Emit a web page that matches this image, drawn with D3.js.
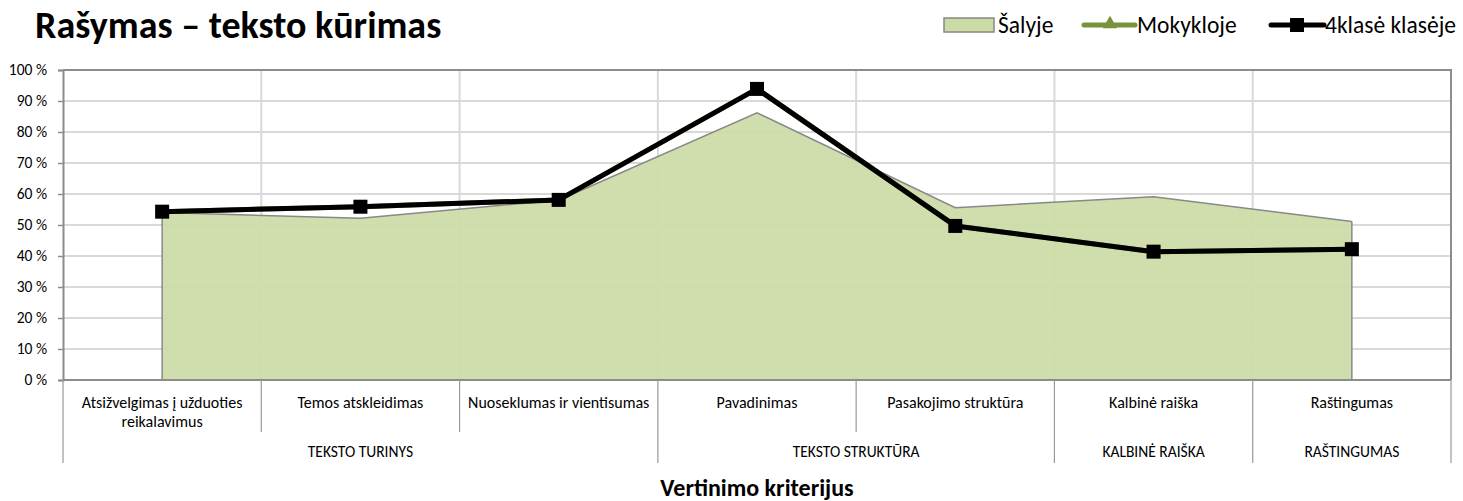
<!DOCTYPE html>
<html>
<head>
<meta charset="utf-8">
<script src="https://cdn.jsdelivr.net/npm/d3@7"></script>
<style>
  body { margin: 0; background: #fff; }
  text { font-family: Carlito, Calibri, Lato, "Open Sans", sans-serif; fill: #000; }
</style>
</head>
<body>
<div id="graph"></div>
<script>
// data
var criteria = [
  ["Atsižvelgimas į užduoties", "reikalavimus"],
  ["Temos atskleidimas"],
  ["Nuoseklumas ir vientisumas"],
  ["Pavadinimas"],
  ["Pasakojimo struktūra"],
  ["Kalbinė raiška"],
  ["Raštingumas"]
];
var groups = [
  { name: "TEKSTO TURINYS", from: 0, to: 2 },
  { name: "TEKSTO STRUKTŪRA", from: 3, to: 4 },
  { name: "KALBINĖ RAIŠKA", from: 5, to: 5 },
  { name: "RAŠTINGUMAS", from: 6, to: 6 }
];
var salyje = [54, 52.2, 58, 86.2, 55.6, 59.1, 51.1];
var mokykloje = [54.3, 55.9, 58.1, 93.9, 49.7, 41.4, 42.2];
var klaseje = [54.3, 55.9, 58.1, 93.9, 49.7, 41.4, 42.2];
var yTicks = [0, 10, 20, 30, 40, 50, 60, 70, 80, 90, 100];

var width = 1463, height = 501;
var margin = { top: 70, right: 12, bottom: 121, left: 63 };

var svg = d3.select("#graph").append("svg")
  .attr("width", width)
  .attr("height", height);

var x = d3.scaleBand()
  .domain(d3.range(criteria.length))
  .range([margin.left, width - margin.right])
  .padding(0);
var y = d3.scaleLinear().domain([0, 100]).range([height - margin.bottom, margin.top]);
var cx = function(i) { return x(i) + x.bandwidth() / 2; };

// gridlines
svg.append("g").selectAll("line")
  .data(yTicks.slice(1))
  .enter().append("line")
  .attr("x1", margin.left).attr("x2", width - margin.right)
  .attr("y1", function(d) { return y(d); }).attr("y2", function(d) { return y(d); })
  .attr("stroke", "#d9d9d9").attr("stroke-width", 2);

svg.append("g").selectAll("line")
  .data(d3.range(1, criteria.length))
  .enter().append("line")
  .attr("x1", function(i) { return x(i); }).attr("x2", function(i) { return x(i); })
  .attr("y1", y(0)).attr("y2", y(100))
  .attr("stroke", "#d9d9d9").attr("stroke-width", 2);

// country area
var area = d3.area()
  .x(function(d, i) { return cx(i); })
  .y0(y(0))
  .y1(function(d) { return y(d); });
svg.append("path")
  .datum(salyje)
  .attr("d", area)
  .attr("fill", "#cbdba6")
  .attr("fill-opacity", 0.93)
  .attr("stroke", "none");
svg.append("path")
  .datum(salyje)
  .attr("d", d3.line().x(function(d, i) { return cx(i); }).y(function(d) { return y(d); }))
  .attr("fill", "none")
  .attr("stroke", "#888")
  .attr("stroke-width", 1.5);
svg.append("line")
  .attr("x1", cx(0)).attr("x2", cx(0)).attr("y1", y(0)).attr("y2", y(salyje[0]))
  .attr("stroke", "#888").attr("stroke-width", 1.5);
svg.append("line")
  .attr("x1", cx(6)).attr("x2", cx(6)).attr("y1", y(0)).attr("y2", y(salyje[6]))
  .attr("stroke", "#888").attr("stroke-width", 1.5);

// plot border (top, right) and y axis
svg.append("path")
  .attr("d", "M" + margin.left + "," + y(100) + "H" + (width - margin.right) + "V" + y(0))
  .attr("fill", "none").attr("stroke", "#8c8c8c").attr("stroke-width", 2);

var yAxis = svg.append("g")
  .attr("transform", "translate(" + margin.left + ",0)")
  .call(d3.axisLeft(y).tickValues(yTicks).tickSize(5).tickPadding(11)
    .tickFormat(function(d) { return d + " %"; }));
yAxis.select(".domain").attr("stroke", "#8c8c8c").attr("stroke-width", 2);
yAxis.selectAll(".tick line").attr("stroke", "#8c8c8c").attr("stroke-width", 1.5);
yAxis.selectAll("text").style("font-size", "15.5px").attr("fill", "#000");

// x axis with two label rows
svg.append("line")
  .attr("x1", margin.left).attr("x2", width - margin.right)
  .attr("y1", y(0)).attr("y2", y(0))
  .attr("stroke", "#8c8c8c").attr("stroke-width", 2);

var groupEdges = [0];
groups.forEach(function(g) { groupEdges.push(g.to + 1); });
d3.range(criteria.length + 1).forEach(function(i) {
  var isGroup = groupEdges.indexOf(i) >= 0;
  var xx = i < criteria.length ? x(i) : x(criteria.length - 1) + x.bandwidth();
  svg.append("line")
    .attr("x1", xx).attr("x2", xx)
    .attr("y1", y(0)).attr("y2", isGroup ? 463 : 432)
    .attr("stroke", "#999").attr("stroke-width", 1.2);
});

svg.append("g").selectAll("text")
  .data(criteria)
  .enter().append("text")
  .attr("x", function(d, i) { return cx(i); })
  .attr("y", 408)
  .attr("text-anchor", "middle")
  .style("font-size", "16px")
  .each(function(d) {
    var t = d3.select(this);
    d.forEach(function(line, k) {
      t.append("tspan").attr("x", t.attr("x")).attr("dy", k ? 19 : 0).text(line);
    });
  });

svg.append("g").selectAll("text")
  .data(groups)
  .enter().append("text")
  .attr("x", function(g) { return (x(g.from) + x(g.to) + x.bandwidth()) / 2; })
  .attr("y", 457)
  .attr("text-anchor", "middle")
  .style("font-size", "15.5px")
  .text(function(g) { return g.name; });

svg.append("text")
  .attr("x", (margin.left + width - margin.right) / 2)
  .attr("y", 496)
  .attr("text-anchor", "middle")
  .style("font-size", "24px")
  .style("font-weight", "bold")
  .text("Vertinimo kriterijus");

// school line (hidden under class line)
var line = d3.line().x(function(d, i) { return cx(i); }).y(function(d) { return y(d); });
svg.append("path")
  .datum(mokykloje)
  .attr("d", line)
  .attr("fill", "none").attr("stroke", "#77933c").attr("stroke-width", 5);
svg.append("g").selectAll("path")
  .data(mokykloje)
  .enter().append("path")
  .attr("d", d3.symbol().type(d3.symbolTriangle).size(70))
  .attr("transform", function(d, i) { return "translate(" + cx(i) + "," + (y(d) + 1) + ")"; })
  .attr("fill", "#77933c");

// class line
svg.append("path")
  .datum(klaseje)
  .attr("d", line)
  .attr("fill", "none").attr("stroke", "#000").attr("stroke-width", 5)
  .attr("stroke-linejoin", "round");
svg.append("g").selectAll("rect")
  .data(klaseje)
  .enter().append("rect")
  .attr("x", function(d, i) { return cx(i) - 7; })
  .attr("y", function(d) { return y(d) - 7; })
  .attr("width", 14).attr("height", 14)
  .attr("fill", "#000");

// title
svg.append("text")
  .attr("x", 35).attr("y", 38)
  .style("font-size", "38px")
  .style("font-weight", "bold")
  .text("Rašymas – teksto kūrimas");

// legend
var leg = svg.append("g");
leg.append("rect")
  .attr("x", 944).attr("y", 18).attr("width", 50).attr("height", 14)
  .attr("fill", "#cbdba6").attr("stroke", "#888").attr("stroke-width", 1.5);
leg.append("text").attr("x", 998).attr("y", 33).style("font-size", "23.5px").text("Šalyje");

leg.append("line").attr("x1", 1084).attr("x2", 1135).attr("y1", 25).attr("y2", 25)
  .attr("stroke", "#77933c").attr("stroke-width", 5).attr("stroke-linecap", "round");
leg.append("path")
  .attr("d", d3.symbol().type(d3.symbolTriangle).size(90))
  .attr("transform", "translate(1110,24)")
  .attr("fill", "#77933c");
leg.append("text").attr("x", 1137).attr("y", 33).style("font-size", "23.5px").text("Mokykloje");

leg.append("line").attr("x1", 1271).attr("x2", 1324).attr("y1", 25).attr("y2", 25)
  .attr("stroke", "#000").attr("stroke-width", 5).attr("stroke-linecap", "round");
leg.append("rect").attr("x", 1290).attr("y", 18).attr("width", 14).attr("height", 14).attr("fill", "#000");
leg.append("text").attr("x", 1325).attr("y", 33).style("font-size", "23.5px").text("4klasė klasėje");
</script>
</body>
</html>
